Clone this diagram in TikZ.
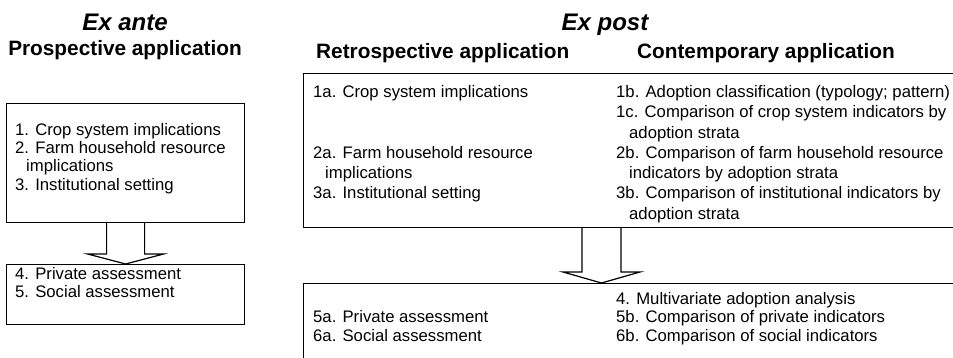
\documentclass[tikz,border=0pt]{standalone}
\usepackage{fontspec}
\setmainfont{Liberation Sans}
\usetikzlibrary{calc}
\begin{document}
\begin{tikzpicture}[x=1pt,y=-1pt,
  frame/.style={draw=black,line width=1.2pt,inner sep=0pt,anchor=north west},
  item/.style={font=\fontsize{16.7}{18.2}\selectfont,inner sep=0pt,anchor=base west},
  phase/.style={font=\fontsize{24}{28}\selectfont\bfseries\itshape,inner sep=0pt,anchor=base},
  colhead/.style={font=\fontsize{20.8}{24}\selectfont\bfseries,inner sep=0pt,anchor=base},
  blockarrow/.style={draw=black,line width=1.2pt,fill=white,line join=miter}]
\useasboundingbox (0,0) rectangle (953,358);
\clip (0,0) rectangle (953,358);

% ---- headings
\node[phase] (exante) at (125,31) {Ex ante};
\node[colhead] (prosp) at (125,56) {Prospective application};
\node[phase] (expost) at (605,31) {Ex post};
\node[colhead,anchor=base west] (retro) at (316,59) {Retrospective application};
\node[colhead,anchor=base east] (contemp) at (895,59) {Contemporary application};

% ---- boxes
\node[frame,minimum width=238pt,minimum height=119pt] (ante1) at (6,103) {};
\node[frame,minimum width=238pt,minimum height=60pt] (ante2) at (6,264) {};
\node[frame,minimum width=700pt,minimum height=154pt] (post1) at (303,73) {};
\node[frame,minimum width=700pt,minimum height=120pt] (post2) at (303,283) {};

% ---- ex ante texts
\node[item] (a1) at (15,135.5) {1. Crop system implications};
\node[item] (a2) at (15,153.7) {2. Farm household resource};
\node[item] (a2b) at (26,171.9) {implications};
\node[item] (a3) at (15,190.1) {3. Institutional setting};
\node[item] (a4) at (15,279.5) {4. Private assessment};
\node[item] (a5) at (15,297.7) {5. Social assessment};

% ---- ex post, retrospective column
\node[item] (r1) at (313,97.5) {1a. Crop system implications};
\node[item] (r2) at (313,158.4) {2a. Farm household resource};
\node[item] (r2b) at (325,178.7) {implications};
\node[item] (r3) at (313,199.0) {3a. Institutional setting};
\node[item] (r5) at (313,322.8) {5a. Private assessment};
\node[item] (r6) at (313,341.1) {6a. Social assessment};

% ---- ex post, contemporary column
\node[item] (c1b) at (616,97.5) {1b. Adoption classification (typology; pattern)};
\node[item] (c1c) at (616,117.8) {1c. Comparison of crop system indicators by};
\node[item] (c1cb) at (629,138.1) {adoption strata};
\node[item] (c2) at (616,158.4) {2b. Comparison of farm household resource};
\node[item] (c2b) at (629,178.7) {indicators by adoption strata};
\node[item] (c3) at (616,199.0) {3b. Comparison of institutional indicators by};
\node[item] (c3b) at (629,219.3) {adoption strata};
\node[item] (c4) at (616,304.5) {4. Multivariate adoption analysis};
\node[item] (c5) at (616,322.8) {5b. Comparison of private indicators};
\node[item] (c6) at (616,341.1) {6b. Comparison of social indicators};

% ---- block arrows between the stages
\coordinate (ax) at (601.5,0);
\path (ante1.south) coordinate (s1) (ante2.north) coordinate (t1);
\path (post1.south -| ax) coordinate (s2) (post2.north -| ax) coordinate (t2);
\draw[blockarrow] ($(s1)+(-19,0)$) -- ($(t1)+(-19,-10)$) -- ($(t1)+(-38,-10)$)
  -- (t1) -- ($(t1)+(38,-10)$) -- ($(t1)+(19,-10)$) -- ($(s1)+(19,0)$);
\draw[blockarrow] ($(s2)+(-19.5,0)$) -- ($(t2)+(-19.5,-11)$) -- ($(t2)+(-38.5,-11)$)
  -- (t2) -- ($(t2)+(38.5,-11)$) -- ($(t2)+(19.5,-11)$) -- ($(s2)+(19.5,0)$);
\end{tikzpicture}
\end{document}
